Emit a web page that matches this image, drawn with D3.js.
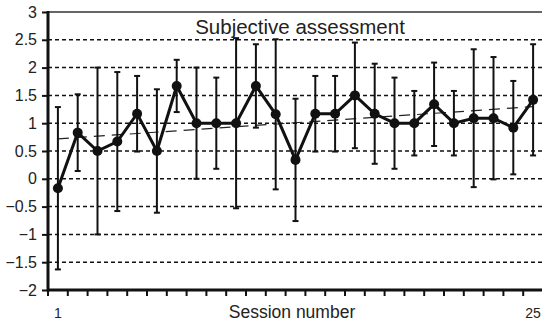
<!DOCTYPE html>
<html>
<head>
<meta charset="utf-8">
<script src="https://cdn.jsdelivr.net/npm/d3@7"></script>
<style>
  body { margin: 0; background: #fff; }
  svg { display: block; font-family: "Liberation Sans", Arial, sans-serif; }
</style>
</head>
<body>
<div id="chart"></div>
<script>
// session numbers, mean score and +/- spread per session
var sessions = d3.range(1, 26);
var means = [-0.17, 0.83, 0.5, 0.67, 1.17, 0.5, 1.67, 1.0, 1.0, 1.0, 1.67, 1.16, 0.34,
             1.17, 1.17, 1.5, 1.17, 1.0, 1.0, 1.34, 1.0, 1.09, 1.09, 0.92, 1.42];
var errors = [1.46, 0.69, 1.5, 1.25, 0.68, 1.11, 0.47, 1.0, 0.82, 1.53, 0.75, 1.35, 1.1,
              0.68, 0.68, 0.95, 0.9, 0.82, 0.58, 0.75, 0.58, 1.24, 1.1, 0.84, 1.0];
var yTicks = [-2, -1.5, -1, -0.5, 0, 0.5, 1, 1.5, 2, 2.5, 3];
var xTickLabels = ["1", "25"];

var width = 542, height = 324;

var svg = d3.select("#chart")
  .append("svg")
  .attr("width", width)
  .attr("height", height);

var x = d3.scaleBand()
  .domain(sessions)
  .range([48, 543]);

var y = d3.scaleLinear()
  .domain([-2, 3])
  .range([290, 12]);

var cx = function (d) { return x(d) + x.bandwidth() / 2; };

/* ------- GRID -------*/
svg.append("g")
  .selectAll("line")
  .data(yTicks.filter(function (t) { return t > -2 && t < 3; }))
  .enter().append("line")
  .attr("x1", 48).attr("x2", width)
  .attr("y1", function (d) { return y(d); })
  .attr("y2", function (d) { return y(d); })
  .style("stroke", "#111")
  .style("stroke-width", 1.5)
  .style("stroke-dasharray", "4,3");

// solid line along the top at 3
svg.append("line")
  .attr("x1", 48).attr("x2", width)
  .attr("y1", y(3)).attr("y2", y(3))
  .style("stroke", "#333")
  .style("stroke-width", 1.5);

/* ------- TREND (least squares) -------*/
var n = sessions.length,
  mx = d3.mean(sessions),
  my = d3.mean(means);
var slope = d3.sum(sessions, function (s, i) { return (s - mx) * (means[i] - my); }) /
  d3.sum(sessions, function (s) { return (s - mx) * (s - mx); });
var trend = function (s) { return my + slope * (s - mx); };

svg.append("line")
  .attr("x1", cx(sessions[0])).attr("y1", y(trend(sessions[0])))
  .attr("x2", cx(sessions[n - 1])).attr("y2", y(trend(sessions[n - 1])))
  .style("stroke", "#222")
  .style("stroke-width", 1.2)
  .style("stroke-dasharray", "11,7");

/* ------- ERROR BARS -------*/
var bars = svg.append("g").selectAll("g")
  .data(sessions)
  .enter().append("g")
  .style("stroke", "#111")
  .style("stroke-width", 2);

bars.append("line")
  .attr("x1", cx).attr("x2", cx)
  .attr("y1", function (d, i) { return y(means[i] + errors[i]); })
  .attr("y2", function (d, i) { return y(means[i] - errors[i]); });

bars.append("line")
  .attr("x1", function (d) { return cx(d) - 3; })
  .attr("x2", function (d) { return cx(d) + 3; })
  .attr("y1", function (d, i) { return y(means[i] + errors[i]); })
  .attr("y2", function (d, i) { return y(means[i] + errors[i]); });

bars.append("line")
  .attr("x1", function (d) { return cx(d) - 3; })
  .attr("x2", function (d) { return cx(d) + 3; })
  .attr("y1", function (d, i) { return y(means[i] - errors[i]); })
  .attr("y2", function (d, i) { return y(means[i] - errors[i]); });

/* ------- MEAN LINE + MARKERS -------*/
var line = d3.line()
  .x(function (d) { return cx(d); })
  .y(function (d, i) { return y(means[i]); });

svg.append("path")
  .datum(sessions)
  .attr("d", line)
  .style("fill", "none")
  .style("stroke", "#111")
  .style("stroke-width", 3)
  .style("stroke-linejoin", "miter");

svg.append("g").selectAll("circle")
  .data(sessions)
  .enter().append("circle")
  .attr("cx", cx)
  .attr("cy", function (d, i) { return y(means[i]); })
  .attr("r", 5)
  .style("fill", "#111");

/* ------- AXES -------*/
var yAxis = svg.append("g")
  .attr("transform", "translate(48,0)")
  .call(d3.axisLeft(y).tickValues(yTicks).tickSize(6).tickFormat(d3.format("")));
yAxis.select(".domain").remove();
yAxis.selectAll("line").style("stroke", "#111").style("stroke-width", 2);
yAxis.selectAll("text")
  .attr("x", -11)
  .style("font-size", "16px")
  .style("fill", "#222");

svg.append("line")
  .attr("x1", 48).attr("x2", 48)
  .attr("y1", y(3) - 1).attr("y2", y(-2) + 1.5)
  .style("stroke", "#111")
  .style("stroke-width", 3);

var xAxis = svg.append("g")
  .attr("transform", "translate(0," + y(-2) + ")");
xAxis.selectAll("line")
  .data(sessions)
  .enter().append("line")
  .attr("x1", function (d) { return x(d); })
  .attr("x2", function (d) { return x(d); })
  .attr("y1", 0).attr("y2", 6)
  .style("stroke", "#111")
  .style("stroke-width", 2);
xAxis.append("line")
  .attr("x1", 47).attr("x2", width)
  .style("stroke", "#111")
  .style("stroke-width", 3);

xAxis.selectAll("text")
  .data(xTickLabels)
  .enter().append("text")
  .attr("x", function (d) { return cx(+d); })
  .attr("y", 28)
  .attr("text-anchor", "middle")
  .style("font-size", "14px")
  .style("fill", "#222")
  .text(function (d) { return d; });

svg.append("text")
  .attr("x", 292)
  .attr("y", 318)
  .attr("text-anchor", "middle")
  .style("font-size", "17.5px")
  .style("fill", "#222")
  .text("Session number");

svg.append("text")
  .attr("x", 300)
  .attr("y", 34)
  .attr("text-anchor", "middle")
  .style("font-size", "20.5px")
  .style("fill", "#222")
  .text("Subjective assessment");
</script>
</body>
</html>
